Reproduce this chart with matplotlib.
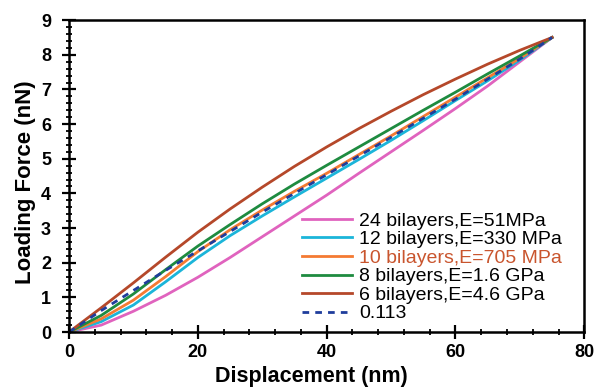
import matplotlib
matplotlib.use("Agg")
import matplotlib.pyplot as plt
from matplotlib.ticker import MultipleLocator

plt.rcParams['font.family'] = ['Liberation Sans', 'DejaVu Sans']

disp = [0, 5, 10, 15, 20, 25, 30, 35, 40, 45, 50, 55, 60, 65, 70, 75]
f24 = [0, 0.20, 0.60, 1.06, 1.58, 2.15, 2.75, 3.35, 3.95, 4.58, 5.20, 5.82, 6.45, 7.10, 7.80, 8.5]
f12 = [0, 0.30, 0.78, 1.45, 2.15, 2.78, 3.35, 3.90, 4.44, 4.98, 5.53, 6.10, 6.68, 7.25, 7.85, 8.5]
f10 = [0, 0.38, 0.92, 1.60, 2.32, 2.95, 3.52, 4.06, 4.58, 5.12, 5.66, 6.22, 6.78, 7.34, 7.90, 8.5]
f8 = [0, 0.48, 1.10, 1.80, 2.48, 3.10, 3.70, 4.27, 4.81, 5.34, 5.87, 6.40, 6.92, 7.45, 7.97, 8.5]
f6 = [0, 0.70, 1.42, 2.16, 2.88, 3.55, 4.18, 4.78, 5.34, 5.87, 6.37, 6.85, 7.30, 7.73, 8.13, 8.5]
ffit = [0, 0.62, 1.20, 1.78, 2.34, 2.90, 3.46, 4.00, 4.54, 5.08, 5.62, 6.17, 6.72, 7.30, 7.88, 8.5]

labels = ["24 bilayers,E=51MPa", "12 bilayers,E=330 MPa", "10 bilayers,E=705 MPa",
          "8 bilayers,E=1.6 GPa", "6 bilayers,E=4.6 GPa", "0.113"]
colors = ["#E063BE", "#1BB5D9", "#F47A32", "#1E8B40", "#B5482A", "#1F3D9C"]
label_colors = ["black", "black", "#C9552E", "black", "black", "black"]

fig = plt.figure(figsize=(5.95, 3.87), dpi=100)
ax = fig.add_axes([0.116, 0.142, 0.866, 0.806])

series = [f24, f12, f10, f8, f6]
for ys, lab, col in zip(series, labels[:5], colors[:5]):
    ax.plot(disp, ys, color=col, lw=2.0, label=lab)
ax.plot(disp, ffit, color=colors[5], lw=2.0, ls=(0, (2.4, 2.2)), label=labels[5])

ax.set_xlim(0, 80)
ax.set_ylim(0, 9)
ax.xaxis.set_major_locator(MultipleLocator(20))
ax.xaxis.set_minor_locator(MultipleLocator(4))
ax.yaxis.set_major_locator(MultipleLocator(1))
ax.yaxis.set_minor_locator(MultipleLocator(0.2))
ax.tick_params(which='major', direction='inout', length=10, width=1.6, labelsize=13)
ax.tick_params(axis='y', which='major', pad=8)
ax.tick_params(which='minor', direction='inout', length=5, width=1.3)
for lab in ax.get_xticklabels() + ax.get_yticklabels():
    lab.set_fontweight('bold')
for s in ax.spines.values():
    s.set_linewidth(1.8)

ax.set_xlabel("Displacement (nm)", fontsize=15.5, fontweight='bold')
ax.xaxis.set_label_coords(0.47, -0.11, transform=ax.transAxes)
ax.xaxis.label.set_va('top')
ax.set_ylabel("Loading Force (nN)", fontsize=16, fontweight='bold')
ax.yaxis.set_label_coords(-0.064, 0.482, transform=ax.transAxes)

leg = ax.legend(loc='upper left', bbox_to_anchor=(0.452, 0.385), frameon=False,
                fontsize=14, handlelength=2.6, handletextpad=0.36, labelspacing=0.05,
                borderpad=0, borderaxespad=0)
for t, c in zip(leg.get_texts(), label_colors):
    t.set_color(c)

fig.savefig("out.png", dpi=100)
